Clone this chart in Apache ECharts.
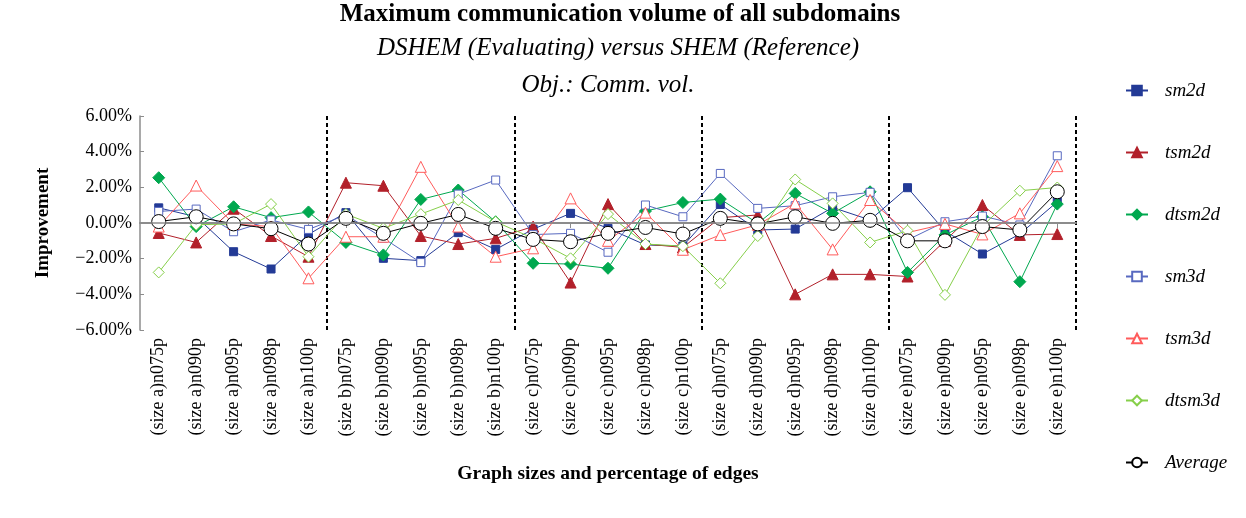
<!DOCTYPE html>
<html>
<head>
<meta charset="utf-8">
<script src="https://cdn.jsdelivr.net/npm/echarts@6/dist/echarts.min.js"></script>
<style>html,body{margin:0;padding:0;background:#fff;}#c{width:1246px;height:518px;}</style>
</head>
<body>
<div id="c"></div>
<script>
var sizes = ['a', 'b', 'c', 'd', 'e'];
var edgePcts = ['n075p', 'n090p', 'n095p', 'n098p', 'n100p'];
var categories = [];
sizes.forEach(function (s) { edgePcts.forEach(function (p) { categories.push('(size ' + s + ')' + p); }); });

var yTicks = [-6, -4, -2, 0, 2, 4, 6];

var sm2d   = [0.85, 0.35, -1.61, -2.58, -0.64, 0.58, -1.98, -2.11, -0.54, -1.48, -0.35, 0.54, -0.30, -1.23, -1.29, 1.04, -0.39, -0.34, 0.87, 0.17, 1.98, -0.45, -1.74, -0.62, 1.19];
var tsm2d  = [-0.56, -1.09, 0.80, -0.73, -1.89, 2.26, 2.09, -0.73, -1.18, -0.86, -0.20, -3.34, 1.06, -1.18, -1.37, 0.30, 0.45, -4.00, -2.88, -2.88, -3.00, -1.00, 1.01, -0.67, -0.62];
var dtsm2d = [2.54, -0.20, 0.91, 0.30, 0.62, -1.09, -1.79, 1.32, 1.85, 0.07, -2.26, -2.30, -2.54, 0.67, 1.15, 1.34, -0.02, 1.66, 0.54, 1.75, -2.77, -0.67, 0.35, -3.29, 1.06];
var sm3d   = [0.65, 0.78, -0.49, 0.17, -0.36, 0.45, -0.85, -2.22, 1.62, 2.41, -0.65, -0.58, -1.64, 1.01, 0.35, 2.78, 0.82, 0.97, 1.47, 1.72, -0.95, 0.07, 0.39, -0.11, 3.77];
var tsm3d  = [-0.20, 2.10, -0.05, -0.20, -3.10, -0.77, -0.77, 3.15, -0.20, -1.89, -1.42, 1.38, -1.00, 0.58, -1.50, -0.67, -0.10, 1.10, -1.48, 1.29, -0.54, -0.05, -0.64, 0.54, 3.19];
var dtsm3d = [-2.77, -0.10, -0.05, 1.06, -1.89, 0.50, -0.30, 0.50, 1.29, 0.07, -0.86, -1.98, 0.50, -1.18, -1.30, -3.38, -0.73, 2.44, 1.10, -1.09, -0.43, -4.03, -0.17, 1.81, 1.99];
var average = [0.08, 0.35, -0.05, -0.32, -1.18, 0.26, -0.58, -0.02, 0.48, -0.30, -0.92, -1.05, -0.58, -0.25, -0.62, 0.26, -0.05, 0.35, -0.02, 0.15, -1.00, -1.00, -0.20, -0.39, 1.75];

var FONT = '"Liberation Serif", "Times New Roman", serif';

function mk(name, data, color, symbol, size, hollow) {
  return {
    name: name, type: 'line', data: data, symbol: symbol, symbolSize: size,
    lineStyle: { color: color, width: 1 },
    itemStyle: hollow ? { color: '#fff', borderColor: color, borderWidth: 1 }
                      : { color: color, borderColor: color, borderWidth: 1 },
    emphasis: { disabled: true }, animation: false
  };
}

var series = [
  mk('sm2d', sm2d, '#233a96', 'rect', 8, false),
  mk('tsm2d', tsm2d, '#b2202a', 'triangle', 11, false),
  mk('dtsm2d', dtsm2d, '#00a84f', 'diamond', 12, false),
  mk('sm3d', sm3d, '#5869c0', 'rect', 8, true),
  mk('tsm3d', tsm3d, '#ff5b5b', 'triangle', 11, true),
  mk('dtsm3d', dtsm3d, '#86cf4a', 'diamond', 11, true),
  mk('Average', average, '#000000', 'circle', 14, true)
];
series[0].markLine = { silent: true, symbol: 'none', label: { show: false },
  lineStyle: { color: '#8c8c8c', width: 1.5, type: 'solid' }, data: [{ yAxis: 0 }] };

var chart = echarts.init(document.getElementById('c'), null, { renderer: 'canvas' });
chart.setOption({
  backgroundColor: '#fff',
  animation: false,
  title: [
    { text: 'Maximum communication volume of all subdomains', left: 615, top: -3, textAlign: 'center',
      textStyle: { fontFamily: FONT, fontWeight: 'bold', fontSize: 25, color: '#000' } },
    { text: 'DSHEM (Evaluating) versus SHEM (Reference)', left: 613, top: 31, textAlign: 'center',
      textStyle: { fontFamily: FONT, fontStyle: 'italic', fontWeight: 'normal', fontSize: 25, color: '#000' } },
    { text: 'Obj.: Comm. vol.', left: 603, top: 68, textAlign: 'center',
      textStyle: { fontFamily: FONT, fontStyle: 'italic', fontWeight: 'normal', fontSize: 25, color: '#000' } }
  ],
  legend: {
    orient: 'vertical', left: 1120, top: 76, itemGap: 43, itemWidth: 22, itemHeight: 12,
    textStyle: { fontFamily: FONT, fontStyle: 'italic', fontSize: 19, color: '#000', padding: [0, 0, 0, 12] },
    data: ['sm2d', 'tsm2d', 'dtsm2d', 'sm3d', 'tsm3d', 'dtsm3d', 'Average']
  },
  grid: { left: 140, right: 170, top: 116, bottom: 188, containLabel: false },
  xAxis: {
    type: 'category', data: categories, boundaryGap: true,
    name: 'Graph sizes and percentage of edges', nameLocation: 'middle', nameGap: 134,
    nameTextStyle: { fontFamily: FONT, fontWeight: 'bold', fontSize: 19.5, color: '#000' },
    axisLine: { lineStyle: { color: '#8c8c8c', width: 2 } },
    axisTick: { show: true, alignWithLabel: true, length: 5, lineStyle: { color: '#8c8c8c' } },
    axisLabel: { rotate: 90, interval: 0, margin: 8, fontFamily: FONT, fontSize: 18, color: '#000' },
    splitLine: { show: true, interval: function (i) { return i > 0 && i % 5 === 0; },
      lineStyle: { color: '#000', width: 2, type: [4, 3] } }
  },
  yAxis: {
    type: 'value', min: yTicks[0], max: yTicks[yTicks.length - 1], interval: 2,
    name: 'Improvement', nameLocation: 'middle', nameGap: 87, nameRotate: 90,
    nameTextStyle: { fontFamily: FONT, fontWeight: 'bold', fontSize: 19, color: '#000' },
    axisLine: { show: true, lineStyle: { color: '#8c8c8c', width: 1.5 } },
    axisTick: { show: true, inside: true, length: 4, lineStyle: { color: '#8c8c8c' } },
    axisLabel: { margin: 8, fontFamily: FONT, fontSize: 18, color: '#000',
      formatter: function (v) { return (v < 0 ? '\u2212' + Math.abs(v).toFixed(2) : v.toFixed(2)) + '%'; } },
    splitLine: { show: false }
  },
  series: series
});
</script>
</body>
</html>
